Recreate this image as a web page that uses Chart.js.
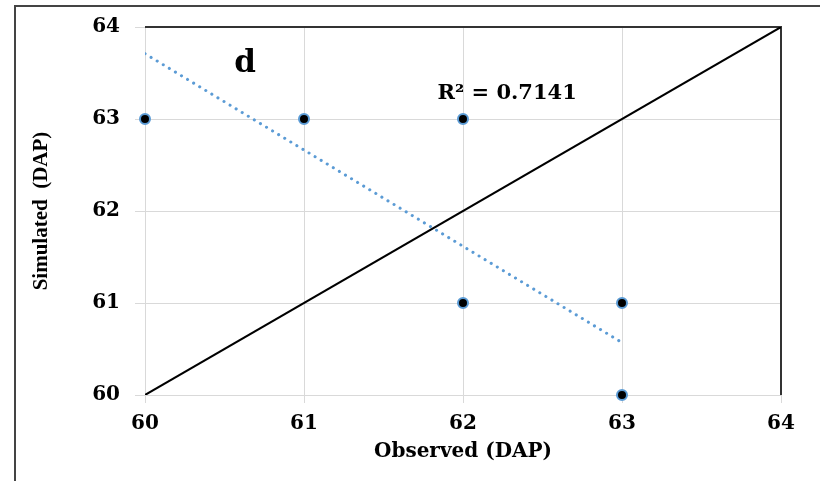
<!DOCTYPE html>
<html>
<head>
<meta charset="utf-8">
<script src="https://cdn.jsdelivr.net/npm/chart.js@4"></script>
<style>
  body { margin: 0; background: #fff; }
  #wrap { width: 820px; height: 481px; position: relative; }
</style>
</head>
<body>
<div id="wrap"><canvas id="chart" width="820" height="481"></canvas></div>
<script>
// ================= DATA =================
const observed = [60, 61, 62, 62, 63, 63];
const simulated = [63, 63, 63, 61, 61, 60];
const trendX = [60, 63];
const trendY = [63.71, 60.57];
const oneToOne = [60, 64];
const axisTicks = [60, 61, 62, 63, 64];
const panelLabel = "d";
const r2Label = "R² = 0.7141";

// ================= PLUGINS =================
const frame = {
    id: "frame",
    beforeDraw(chart) {
        const c = chart.ctx;
        c.save();
        c.strokeStyle = "#444";
        c.lineWidth = 2;
        c.beginPath();
        c.moveTo(15, 481);
        c.lineTo(15, 6);
        c.lineTo(820, 6);
        c.stroke();
        c.restore();
    },
    beforeDatasetsDraw(chart) {
        const { ctx: c, chartArea: a } = chart;
        c.save();
        c.strokeStyle = "#333";
        c.lineWidth = 2;
        c.beginPath();
        c.moveTo(a.left, a.top);
        c.lineTo(a.right, a.top);
        c.lineTo(a.right, a.bottom);
        c.stroke();
        c.restore();
    },
    afterDatasetsDraw(chart) {
        const { ctx: c, scales } = chart;
        c.save();
        c.fillStyle = "#000";
        c.font = "bold 31px 'DejaVu Serif'";
        c.textAlign = "center";
        c.textBaseline = "middle";
        c.fillText(panelLabel, scales.x.getPixelForValue(60.63), scales.y.getPixelForValue(63.6));

        c.font = "bold 21px 'DejaVu Serif'";
        c.textAlign = "left";
        c.textBaseline = "alphabetic";
        c.fillText(r2Label, scales.x.getPixelForValue(61.84), scales.y.getPixelForValue(63.22));
        c.restore();
    }
};

// ================= CHART =================
new Chart(document.getElementById("chart"), {
    type: "scatter",
    data: {
        datasets: [
            {
                type: "line",
                data: oneToOne.map(v => ({ x: v, y: v })),
                borderColor: "#000",
                borderWidth: 2,
                pointRadius: 0,
                order: 2
            },
            {
                type: "line",
                data: trendX.map((x, i) => ({ x, y: trendY[i] })),
                borderColor: "#5b9bd5",
                borderWidth: 3,
                borderDash: [0.1, 7],
                borderCapStyle: "round",
                pointRadius: 0,
                order: 3
            },
            {
                data: observed.map((x, i) => ({ x, y: simulated[i] })),
                backgroundColor: "#000",
                borderColor: "#5b9bd5",
                borderWidth: 2,
                pointRadius: 5,
                clip: false,
                order: 1
            }
        ]
    },
    options: {
        responsive: false,
        animation: false,
        layout: { padding: { left: 0, right: 39, top: 27, bottom: 0 } },
        plugins: { legend: { display: false }, tooltip: { enabled: false } },
        scales: {
            x: {
                type: "linear",
                min: 60, max: 64,
                afterBuildTicks: s => { s.ticks = axisTicks.map(v => ({ value: v })); },
                afterFit: s => { s.height = 86; },
                grid: { color: "#d9d9d9", tickLength: 8, tickColor: "#d9d9d9" },
                border: { color: "#d9d9d9" },
                ticks: {
                    padding: 9,
                    color: "#000",
                    font: { family: "'DejaVu Serif'", weight: "bold", size: 20 }
                },
                title: {
                    display: true,
                    text: "Observed (DAP)",
                    color: "#000",
                    padding: { top: 0, bottom: 17 },
                    font: { family: "'DejaVu Serif'", weight: "bold", size: 20 }
                }
            },
            y: {
                min: 60, max: 64,
                afterBuildTicks: s => { s.ticks = axisTicks.map(v => ({ value: v })); },
                afterFit: s => { s.width = 145; },
                grid: { color: "#d9d9d9", tickLength: 10, tickColor: "#d9d9d9" },
                border: { color: "#d9d9d9" },
                ticks: {
                    padding: 15,
                    color: "#000",
                    font: { family: "'DejaVu Serif'", weight: "bold", size: 20 }
                },
                title: {
                    display: true,
                    text: "Simulated  (DAP)",
                    color: "#000",
                    padding: { top: 29, bottom: 0 },
                    font: { family: "'Liberation Serif'", weight: "bold", size: 21 }
                }
            }
        }
    },
    plugins: [frame]
});
</script>
</body>
</html>
